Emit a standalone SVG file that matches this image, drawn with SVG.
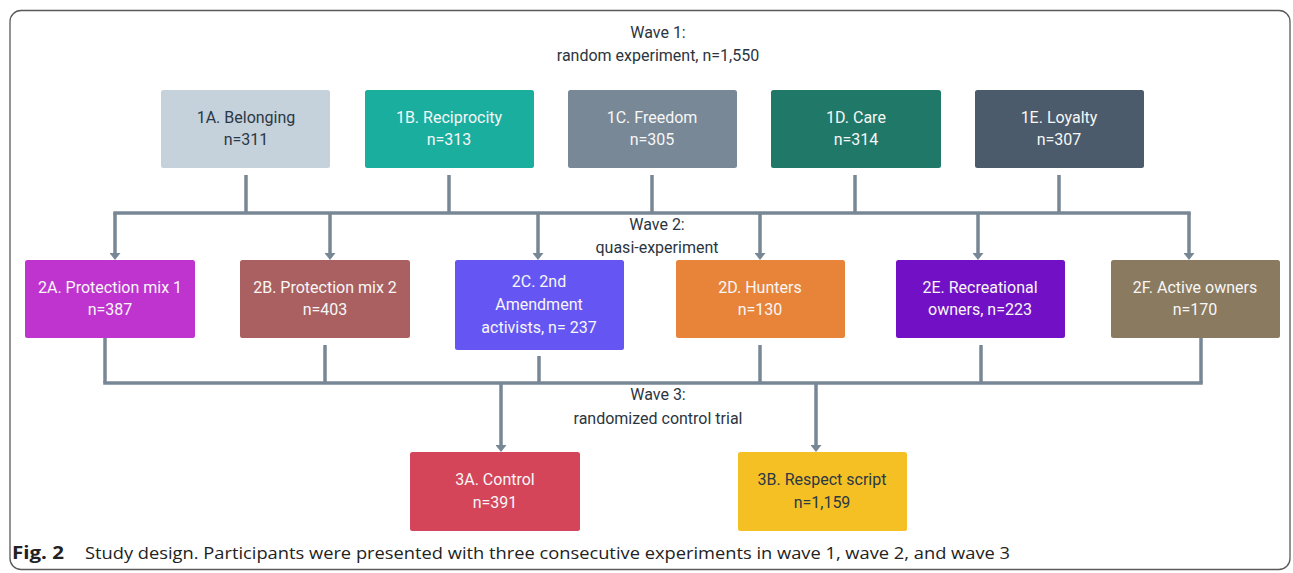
<svg xmlns="http://www.w3.org/2000/svg" width="1293" height="573" viewBox="0 0 1293 573">
<style>
.frame{fill:#fff;stroke:#5a5a5a;stroke-width:1.3}
.box{stroke:none}
.t{font-family:Roboto,"Liberation Sans",sans-serif;font-size:16px;text-anchor:middle;fill:#f7f7f7}
.d{fill:#2b3845}
.w{font-family:Roboto,"Liberation Sans",sans-serif;font-size:16px;text-anchor:middle;fill:#2b3540}
.c{stroke:#788795;stroke-width:3.5;fill:none}
.cap{font-family:"Open Sans","Liberation Sans",sans-serif;font-size:17px;fill:#222}
</style>
<defs>
<marker id="ah" viewBox="0 0 7 11" refX="0" refY="5.5" markerWidth="7" markerHeight="11" markerUnits="userSpaceOnUse" orient="auto">
<path d="M0,0 L7,5.5 L0,11 Z" fill="#788795"/>
</marker>
</defs>
<rect class="frame" x="10" y="10.5" width="1280" height="559" rx="11"/>
<g id="wave-labels">
<text class="w" x="658" y="38">Wave 1:</text>
<text class="w" x="658" y="61">random experiment, n=1,550</text>
<text class="w" x="657" y="230">Wave 2:</text>
<text class="w" x="657" y="253">quasi-experiment</text>
<text class="w" x="658" y="400">Wave 3:</text>
<text class="w" x="658" y="424">randomized control trial</text>
</g>
<g id="connectors">
<line class="c" x1="246" y1="175" x2="246" y2="213"/>
<line class="c" x1="449" y1="175" x2="449" y2="213"/>
<line class="c" x1="652" y1="175" x2="652" y2="213"/>
<line class="c" x1="855" y1="175" x2="855" y2="213"/>
<line class="c" x1="1059" y1="175" x2="1059" y2="213"/>
<line class="c" x1="113.25" y1="213" x2="1190.75" y2="213"/>
<line class="c" x1="115" y1="213" x2="115" y2="253" marker-end="url(#ah)"/>
<line class="c" x1="330" y1="213" x2="330" y2="253" marker-end="url(#ah)"/>
<line class="c" x1="538" y1="213" x2="538" y2="253" marker-end="url(#ah)"/>
<line class="c" x1="760" y1="213" x2="760" y2="253" marker-end="url(#ah)"/>
<line class="c" x1="978" y1="213" x2="978" y2="253" marker-end="url(#ah)"/>
<line class="c" x1="1189" y1="213" x2="1189" y2="253" marker-end="url(#ah)"/>
<line class="c" x1="105" y1="338" x2="105" y2="383"/>
<line class="c" x1="325" y1="345" x2="325" y2="383"/>
<line class="c" x1="539" y1="356" x2="539" y2="383"/>
<line class="c" x1="760" y1="345" x2="760" y2="383"/>
<line class="c" x1="981" y1="345" x2="981" y2="383"/>
<line class="c" x1="1201" y1="338" x2="1201" y2="383"/>
<line class="c" x1="103.25" y1="383" x2="1202.75" y2="383"/>
<line class="c" x1="501" y1="383" x2="501" y2="445" marker-end="url(#ah)"/>
<line class="c" x1="816" y1="383" x2="816" y2="445" marker-end="url(#ah)"/>
</g>
<g id="n1A"><rect class="box" x="161" y="90" width="169" height="78" rx="2.5" fill="#c5d1db"/>
<text class="t d" x="246" y="123">1A. Belonging</text><text class="t d" x="246" y="145">n=311</text></g>
<g id="n1B"><rect class="box" x="365" y="90" width="169" height="78" rx="2.5" fill="#1aae9f"/>
<text class="t" x="449" y="123">1B. Reciprocity</text><text class="t" x="449" y="145">n=313</text></g>
<g id="n1C"><rect class="box" x="568" y="90" width="169" height="78" rx="2.5" fill="#788896"/>
<text class="t" x="652" y="123">1C. Freedom</text><text class="t" x="652" y="145">n=305</text></g>
<g id="n1D"><rect class="box" x="771" y="90" width="170" height="78" rx="2.5" fill="#207868"/>
<text class="t" x="856" y="123">1D. Care</text><text class="t" x="856" y="145">n=314</text></g>
<g id="n1E"><rect class="box" x="975" y="90" width="169" height="78" rx="2.5" fill="#4b5b6b"/>
<text class="t" x="1059" y="123">1E. Loyalty</text><text class="t" x="1059" y="145">n=307</text></g>
<g id="n2A"><rect class="box" x="25" y="260" width="170" height="78" rx="2.5" fill="#bf33cf"/>
<text class="t" x="110" y="293">2A. Protection mix 1</text><text class="t" x="110" y="315">n=387</text></g>
<g id="n2B"><rect class="box" x="240" y="260" width="170" height="78" rx="2.5" fill="#aa6060"/>
<text class="t" x="325" y="293">2B. Protection mix 2</text><text class="t" x="325" y="315">n=403</text></g>
<g id="n2C"><rect class="box" x="455" y="260" width="169" height="90" rx="2.5" fill="#6556f3"/>
<text class="t" x="539" y="287">2C. 2nd</text><text class="t" x="539" y="310">Amendment</text><text class="t" x="539" y="333">activists, n= 237</text></g>
<g id="n2D"><rect class="box" x="676" y="260" width="169" height="78" rx="2.5" fill="#e8843a"/>
<text class="t" x="760" y="293">2D. Hunters</text><text class="t" x="760" y="315">n=130</text></g>
<g id="n2E"><rect class="box" x="896" y="260" width="169" height="78" rx="2.5" fill="#7110c4"/>
<text class="t" x="980" y="293">2E. Recreational</text><text class="t" x="980" y="315">owners, n=223</text></g>
<g id="n2F"><rect class="box" x="1111" y="260" width="169" height="78" rx="2.5" fill="#8a7a5f"/>
<text class="t" x="1195" y="293">2F. Active owners</text><text class="t" x="1195" y="315">n=170</text></g>
<g id="n3A"><rect class="box" x="410" y="452" width="170" height="79" rx="2.5" fill="#d4455a"/>
<text class="t" x="495" y="485">3A. Control</text><text class="t" x="495" y="508">n=391</text></g>
<g id="n3B"><rect class="box" x="738" y="452" width="169" height="79" rx="2.5" fill="#f5c024"/>
<text class="t d" x="822" y="485">3B. Respect script</text><text class="t d" x="822" y="508">n=1,159</text></g>
<g id="caption">
<text class="cap" x="12" y="559" font-weight="bold" textLength="52" lengthAdjust="spacingAndGlyphs">Fig. 2</text>
<text class="cap" x="85" y="559" textLength="925" lengthAdjust="spacingAndGlyphs">Study design. Participants were presented with three consecutive experiments in wave 1, wave 2, and wave 3</text>
</g>
</svg>
